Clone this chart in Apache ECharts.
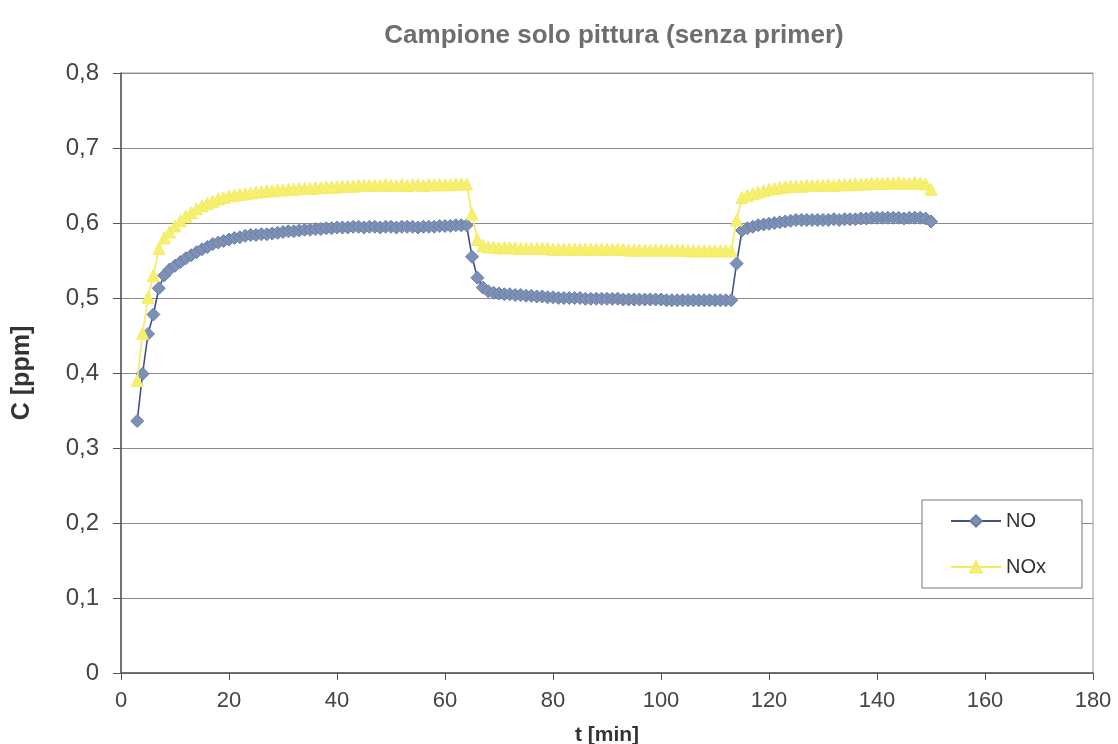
<!DOCTYPE html>
<html>
<head>
<meta charset="utf-8">
<script src="https://cdn.jsdelivr.net/npm/echarts@6/dist/echarts.min.js"></script>
<style>
html,body{margin:0;padding:0;background:#fff;}
#c{width:1118px;height:744px;}
</style>
</head>
<body>
<div id="c"></div>
<script>
const titleText = 'Campione solo pittura (senza primer)';
const xName = 't [min]';
const yName = 'C [ppm]';
const seriesNames = ['NO', 'NOx'];
// t = 3 .. 150 min, one reading per minute
const tValues = [
3,4,5,6,7,8,9,10,11,12,13,14,15,16,17,18,19,20,21,22,23,24,25,26,27,28,29,30,31,32,33,34,35,36,37,38,39,40,
41,42,43,44,45,46,47,48,49,50,51,52,53,54,55,56,57,58,59,60,61,62,63,64,65,66,67,68,69,70,71,72,73,74,75,76,
77,78,79,80,81,82,83,84,85,86,87,88,89,90,91,92,93,94,95,96,97,98,99,100,101,102,103,104,105,106,107,108,109,110,
111,112,113,114,115,116,117,118,119,120,121,122,123,124,125,126,127,128,129,130,131,132,133,134,135,136,137,138,139,140,
141,142,143,144,145,146,147,148,149,150];
const noValues = [
0.336,0.399,0.452,0.478,0.513,0.530,0.538,0.543,0.548,0.553,0.557,0.561,0.565,0.568,0.572,0.574,0.576,0.578,0.580,0.581,
0.583,0.584,0.584,0.585,0.585,0.586,0.587,0.588,0.589,0.589,0.590,0.591,0.591,0.592,0.592,0.593,0.593,0.594,0.594,0.594,
0.595,0.595,0.594,0.595,0.595,0.594,0.595,0.595,0.594,0.595,0.595,0.595,0.594,0.595,0.595,0.595,0.596,0.596,0.596,0.597,
0.597,0.597,0.555,0.527,0.514,0.509,0.507,0.506,0.505,0.505,0.504,0.504,0.503,0.503,0.502,0.502,0.501,0.501,0.500,0.500,
0.500,0.500,0.500,0.499,0.499,0.499,0.499,0.499,0.499,0.499,0.498,0.498,0.498,0.498,0.498,0.498,0.498,0.498,0.497,0.497,
0.497,0.497,0.497,0.497,0.497,0.497,0.497,0.497,0.497,0.497,0.497,0.546,0.590,0.593,0.595,0.597,0.598,0.599,0.600,0.601,
0.602,0.603,0.604,0.604,0.604,0.604,0.604,0.604,0.604,0.605,0.604,0.605,0.605,0.605,0.606,0.606,0.607,0.607,0.607,0.607,
0.607,0.607,0.606,0.607,0.607,0.607,0.606,0.602];
const noxValues = [
0.390,0.453,0.501,0.530,0.566,0.580,0.588,0.596,0.603,0.609,0.614,0.619,0.623,0.626,0.629,0.632,0.634,0.636,0.637,0.638,
0.639,0.640,0.641,0.642,0.643,0.643,0.644,0.644,0.645,0.645,0.646,0.646,0.646,0.647,0.647,0.648,0.648,0.648,0.649,0.649,
0.649,0.650,0.650,0.650,0.650,0.650,0.651,0.650,0.650,0.651,0.650,0.651,0.651,0.650,0.651,0.651,0.651,0.651,0.651,0.652,
0.652,0.652,0.612,0.578,0.570,0.568,0.568,0.567,0.567,0.567,0.567,0.566,0.566,0.566,0.566,0.566,0.566,0.565,0.565,0.565,
0.565,0.565,0.565,0.565,0.565,0.565,0.565,0.565,0.565,0.565,0.565,0.564,0.564,0.564,0.564,0.564,0.564,0.564,0.564,0.564,
0.564,0.564,0.563,0.563,0.563,0.563,0.563,0.563,0.563,0.563,0.563,0.604,0.634,0.637,0.639,0.641,0.643,0.645,0.646,0.647,
0.648,0.649,0.649,0.649,0.650,0.650,0.650,0.650,0.651,0.650,0.651,0.651,0.651,0.652,0.652,0.652,0.653,0.653,0.653,0.653,
0.653,0.654,0.653,0.653,0.654,0.653,0.652,0.645];
const xTicks = [0, 180, 20];
const yTicks = [0, 0.8, 0.1];

const chart = echarts.init(document.getElementById('c'), null, {renderer: 'canvas'});
const pair = (vals) => tValues.map((t, i) => [t, vals[i]]);
const fnt = "'Liberation Sans', Arial, sans-serif";
chart.setOption({
  animation: false,
  backgroundColor: '#ffffff',
  title: {
    text: titleText,
    left: 609, top: 18, textAlign: 'center',
    textStyle: {fontFamily: fnt, fontSize: 26, fontWeight: 'bold', color: '#6e6e6e'}
  },
  grid: {left: 121, right: 25, top: 73, bottom: 71, show: true, borderColor: '#9a9a9a', borderWidth: 1,
    containLabel: false, outerBoundsMode: 'none'},
  legend: {
    orient: 'vertical', left: 922, top: 500,
    padding: [11, 36, 11, 28], itemGap: 26, itemWidth: 50, itemHeight: 14,
    backgroundColor: '#ffffff', borderColor: '#777', borderWidth: 1,
    textStyle: {fontFamily: fnt, fontSize: 20, color: '#333', lineHeight: 20},
    data: seriesNames
  },
  xAxis: {
    type: 'value', min: xTicks[0], max: xTicks[1], interval: xTicks[2],
    name: xName, nameLocation: 'middle', nameGap: 52,
    nameTextStyle: {fontFamily: fnt, fontSize: 21, fontWeight: 'bold', color: '#333'},
    axisLine: {show: true, lineStyle: {color: '#555', width: 1.5}},
    axisTick: {show: true, length: 7, lineStyle: {color: '#555'}},
    axisLabel: {fontFamily: fnt, fontSize: 22, color: '#444', margin: 17},
    splitLine: {show: false}
  },
  yAxis: {
    type: 'value', min: yTicks[0], max: yTicks[1], interval: yTicks[2],
    name: yName, nameLocation: 'middle', nameGap: 86, nameRotate: 90,
    nameTextStyle: {fontFamily: fnt, fontSize: 25, fontWeight: 'bold', color: '#333'},
    axisLine: {show: true, lineStyle: {color: '#555', width: 1.5}},
    axisTick: {show: true, inside: false, length: 8, lineStyle: {color: '#555'}},
    axisLabel: {fontFamily: fnt, fontSize: 24, color: '#444', margin: 22,
      formatter: (v) => v === 0 ? '0' : v.toFixed(1).replace('.', ',')},
    splitLine: {show: true, lineStyle: {color: '#8a8a8a', width: 1}}
  },
  series: [
    {
      name: seriesNames[0], type: 'line', data: pair(noValues),
      symbol: 'diamond', symbolSize: 13,
      itemStyle: {color: '#7d90b6', borderColor: '#6a7ea8', borderWidth: 1},
      lineStyle: {color: '#3f5287', width: 1.6},
      z: 2
    },
    {
      name: seriesNames[1], type: 'line', data: pair(noxValues),
      symbol: 'triangle', symbolSize: 12,
      itemStyle: {color: '#f6f06e', borderColor: '#f3ec66', borderWidth: 1},
      lineStyle: {color: '#f2eb5e', width: 1.6},
      z: 3
    }
  ]
});
</script>
</body>
</html>
